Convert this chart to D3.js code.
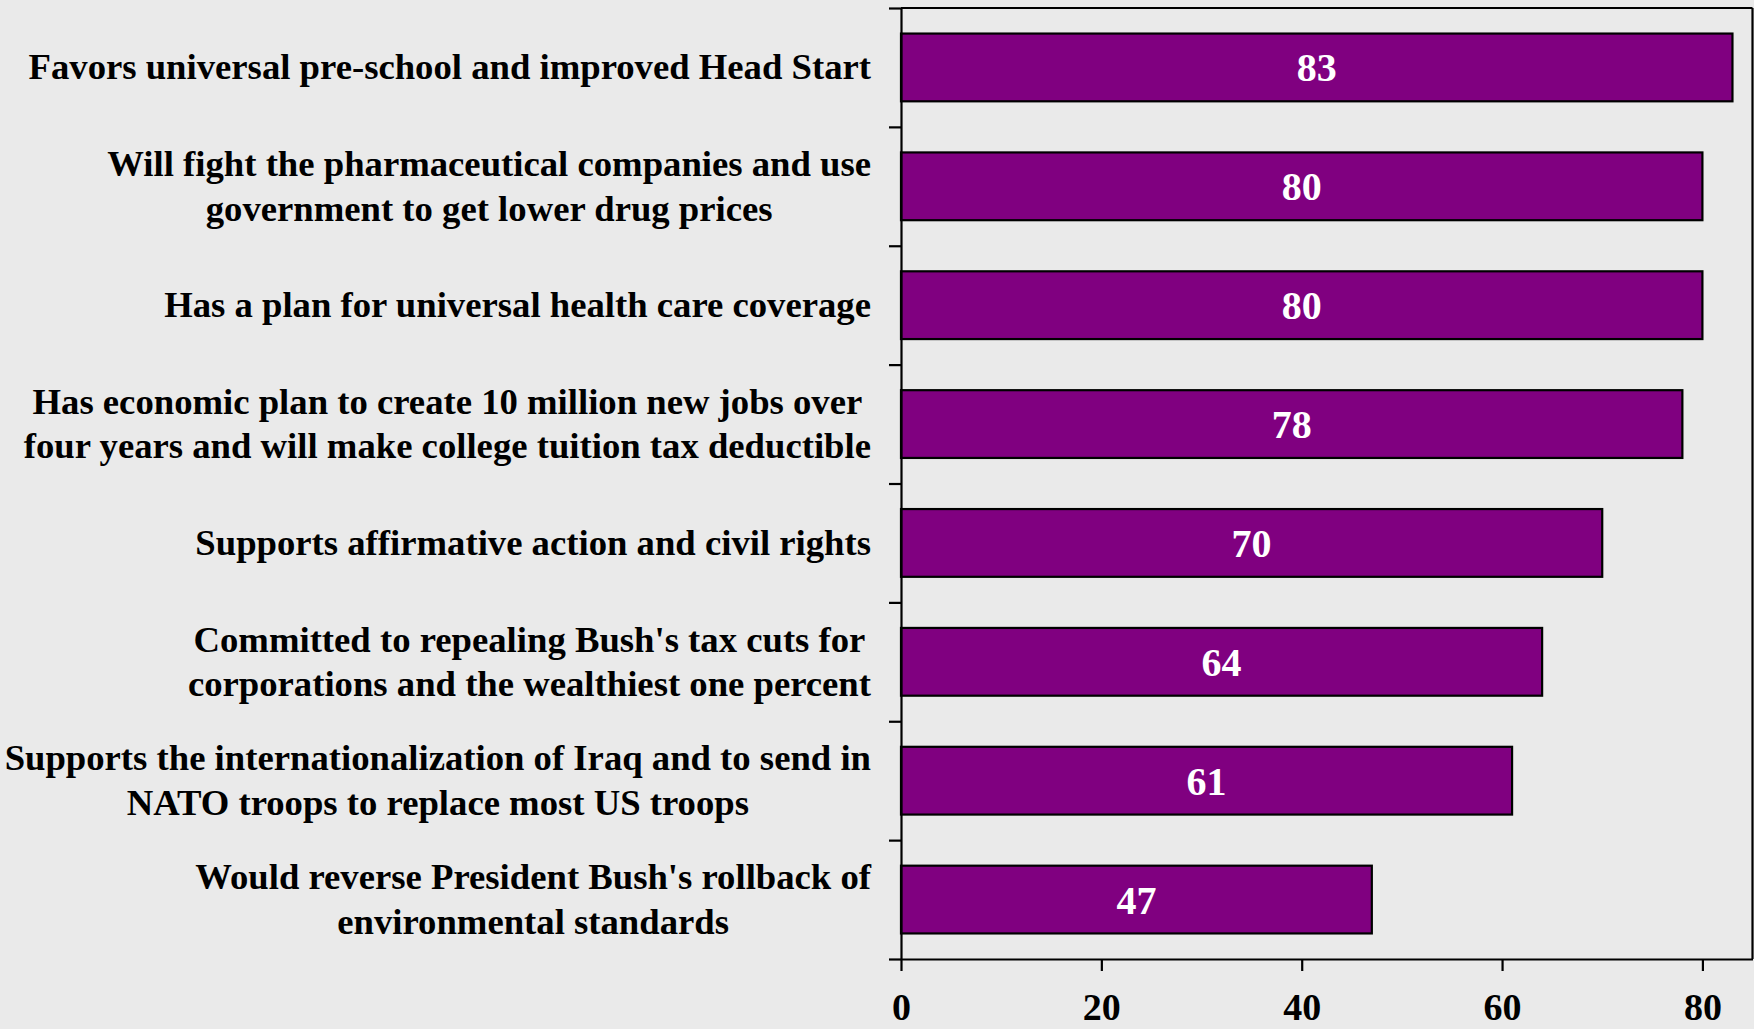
<!DOCTYPE html>
<html><head><meta charset="utf-8">
<script src="https://cdn.jsdelivr.net/npm/d3@7"></script>
<style>html,body{margin:0;padding:0;background:#eaeaea;overflow:hidden} svg{display:block}</style>
</head><body><svg id="c" width="1754" height="1029"></svg>
<script>
const categories = [
  ["Favors universal pre-school and improved Head Start"],
  ["Will fight the pharmaceutical companies and use", "government to get lower drug prices"],
  ["Has a plan for universal health care coverage"],
  ["Has economic plan to create 10 million new jobs over", "four years and will make college tuition tax deductible"],
  ["Supports affirmative action and civil rights"],
  ["Committed to repealing Bush's tax cuts for", "corporations and the wealthiest one percent"],
  ["Supports the internationalization of Iraq and to send in", "NATO troops to replace most US troops"],
  ["Would reverse President Bush's rollback of", "environmental standards"]
];
const values = [83, 80, 80, 78, 70, 64, 61, 47];
const xTicks = [0, 20, 40, 60, 80];
const xDomain = [0, 85];

(function () {
const W = 1754, H = 1029;
const pLeft = 901, pRight = 1752.5, pTop = 8, pBottom = 959;
const font = "'Liberation Serif','Times New Roman',serif";

const svg = d3.select("#c");
svg.append("rect").attr("width", W).attr("height", H).attr("fill", "#eaeaea");

const x = d3.scaleLinear().domain(xDomain).range([pLeft, pRight]);
const y = d3.scaleBand().domain(d3.range(categories.length)).range([pTop, pBottom])
  .paddingInner(0.43).paddingOuter(0.215);
const yb = d3.scaleLinear().domain([0, categories.length]).range([pTop, pBottom]);

// frame top & right
svg.append("line").attr("x1", pLeft).attr("x2", pRight).attr("y1", pTop).attr("y2", pTop)
  .attr("stroke", "#000").attr("stroke-width", 2.2);
svg.append("line").attr("x1", pRight).attr("x2", pRight).attr("y1", pTop).attr("y2", pBottom)
  .attr("stroke", "#000").attr("stroke-width", 2.2);

// bars
svg.append("g").selectAll("rect").data(values).join("rect")
  .attr("x", x(0)).attr("y", (d, i) => y(i))
  .attr("width", d => x(d) - x(0)).attr("height", y.bandwidth())
  .attr("fill", "#800080").attr("stroke", "#000").attr("stroke-width", 2.2);

// bar labels
svg.append("g").selectAll("text").data(values).join("text")
  .attr("x", d => (x(0) + x(d)) / 2)
  .attr("y", (d, i) => y(i) + y.bandwidth() / 2 + 14)
  .attr("text-anchor", "middle")
  .attr("font-family", font).attr("font-weight", "bold").attr("font-size", 40)
  .attr("fill", "#fff").text(d => d);

// y axis with boundary ticks
const ya = svg.append("g").attr("transform", `translate(${pLeft},0)`)
  .call(d3.axisLeft(yb).tickValues(d3.range(categories.length + 1)).tickFormat("").tickSize(12).tickSizeOuter(0));
ya.selectAll("line,path").attr("stroke", "#000").attr("stroke-width", 2.2);

// x axis
const xa = svg.append("g").attr("transform", `translate(0,${pBottom})`)
  .call(d3.axisBottom(x).tickValues(xTicks).tickSize(12).tickSizeOuter(0));
xa.selectAll("line,path").attr("stroke", "#000").attr("stroke-width", 2.2);
xa.selectAll("text").attr("y", 61).attr("dy", null)
  .attr("font-family", font).attr("font-weight", "bold")
  .attr("font-size", 38).attr("fill", "#000");

// category labels: each block centred, block right-aligned
const labelRight = 871, lineH = 44.5;
const lg = svg.append("g");
categories.forEach((lines, i) => {
  const cy = y(i) + y.bandwidth() / 2;
  const t = lg.append("text").attr("text-anchor", "middle")
    .attr("font-family", font).attr("font-weight", "bold").attr("font-size", 36.7).attr("fill", "#000");
  const n = lines.length;
  const spans = lines.map((s, k) => t.append("tspan")
    .attr("y", cy + (k - (n - 1) / 2) * lineH + 12).text(s));
  const maxW = d3.max(spans, s => s.node().getComputedTextLength());
  spans.forEach(s => s.attr("x", labelRight - maxW / 2));
});
})();
</script>
</body></html>
